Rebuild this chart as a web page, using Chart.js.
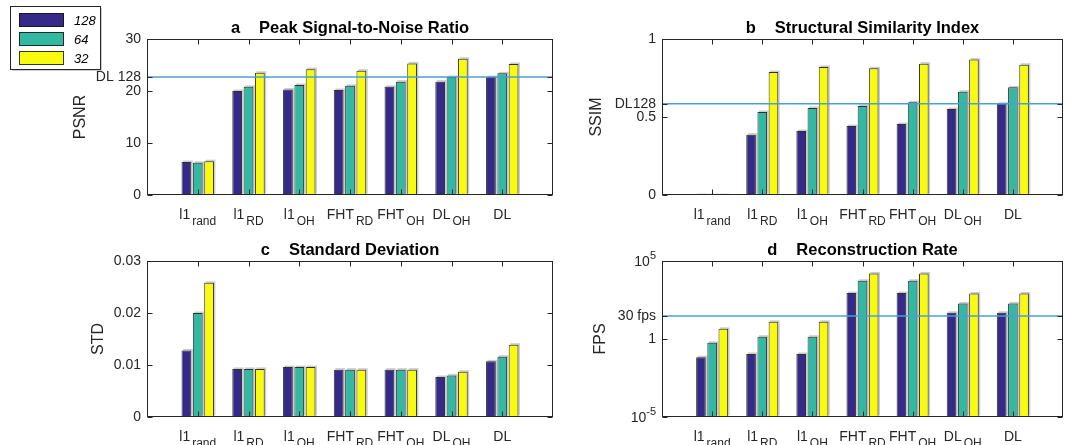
<!DOCTYPE html>
<html><head><meta charset="utf-8">
<script src="https://cdn.jsdelivr.net/npm/chart.js@4.4.0/dist/chart.umd.min.js"></script>
<style>
html,body{margin:0;padding:0;background:#fff;}
#wrap{position:relative;width:1070px;height:445px;overflow:hidden;background:#fff;}
canvas{position:absolute;left:0;top:0;}
</style></head><body>
<div id="wrap">
<canvas id="ca" width="1070" height="445"></canvas>
<canvas id="cb" width="1070" height="445"></canvas>
<canvas id="cc" width="1070" height="445"></canvas>
<canvas id="cd" width="1070" height="445"></canvas>
</div>
<script>
// ---------- data ----------
const categories   = ['l1', 'l1', 'l1', 'FHT', 'FHT', 'DL', 'DL'];
const categorySubs = ['rand', 'RD', 'OH', 'RD', 'OH', 'OH', ''];
const seriesNames  = ['128', '64', '32'];

const psnr128 = [6.35, 20.0, 20.3, 20.2, 20.8, 21.8, 22.7];
const psnr64  = [6.2, 20.8, 21.15, 21.0, 21.8, 22.7, 23.4];
const psnr32  = [6.5, 23.5, 24.2, 23.9, 25.3, 26.2, 25.2];

const ssim128 = [0.003, 0.387, 0.41, 0.442, 0.455, 0.551, 0.585];
const ssim64  = [0.002, 0.532, 0.558, 0.571, 0.594, 0.662, 0.690];
const ssim32  = [0.002, 0.788, 0.821, 0.812, 0.842, 0.868, 0.835];

const std128 = [0.0128, 0.00925, 0.0096, 0.0091, 0.0091, 0.0077, 0.0107];
const std64  = [0.0200, 0.00925, 0.0096, 0.0091, 0.0091, 0.0080, 0.0116];
const std32  = [0.0258, 0.00925, 0.0096, 0.0091, 0.0091, 0.0087, 0.0139];

const fps128 = [0.068, 0.11, 0.11, 880, 880, 48, 48];
const fps64  = [0.57, 1.4, 1.4, 5400, 5400, 190, 190];
const fps32  = [4.5, 12.6, 12.6, 16000, 16000, 830, 830];

const psnrTicks = [0, 10, 20, 30];       const psnrTickLabels = ['0', '10', '20', '30'];
const ssimTicks = [0, 0.5, 1];           const ssimTickLabels = ['0', '0.5', '1'];
const stdTicks  = [0, 0.01, 0.02, 0.03]; const stdTickLabels  = ['0', '0.01', '0.02', '0.03'];
const fpsTicks  = [1e-5, 1, 1e5];        const fpsTickLabels  = ['10^-5', '1', '10^5'];

const psnrRef = 22.7;  const psnrRefLabel = 'DL 128';
const ssimRef = 0.585; const ssimRefLabel = 'DL128';
const fpsRef  = 30;    const fpsRefLabel  = '30 fps';

// ---------- style ----------
const FONT = "'Liberation Sans', Arial, Helvetica, sans-serif";
const AXIS_COLOR = '#262626';
const COLORS = ['#352A87', '#33B8A1', '#F9FB0E'];

const decor = {
  id: 'decor',
  beforeDatasetsDraw(chart) {
    const ctx = chart.ctx;
    ctx.save();
    ctx.fillStyle = 'rgba(0,0,0,0.2)';
    chart.data.datasets.forEach((ds, k) => {
      chart.getDatasetMeta(k).data.forEach(el => {
        if (el.skip || el.y == null || isNaN(el.y)) return;
        const w = el.width, x0 = el.x - w / 2;
        const top = Math.min(el.y, el.base), h = Math.abs(el.base - el.y);
        ctx.fillRect(x0 + 1.5, top - 1.5, w, h);
      });
    });
    ctx.restore();
  },
  afterDatasetsDraw(chart, args, o) {
    const ctx = chart.ctx;
    const {left, right, top, bottom} = chart.chartArea;
    const ys = chart.scales.y, xs = chart.scales.x;
    ctx.save();
    // reference line
    const ry = ys.getPixelForValue(o.refValue);
    ctx.strokeStyle = '#4A9FD8'; ctx.lineWidth = 1.4;
    ctx.beginPath(); ctx.moveTo(left, ry); ctx.lineTo(right, ry); ctx.stroke();
    // box
    ctx.strokeStyle = AXIS_COLOR; ctx.lineWidth = 1;
    const L = Math.round(left) + 0.5, R = Math.round(right) - 0.5, T = Math.round(top) + 0.5, B = Math.round(bottom) - 0.5;
    ctx.strokeRect(L, T, R - L, B - T);
    // y ticks (inward, both sides)
    ctx.beginPath();
    o.tickValues.concat([o.refValue]).forEach(v => {
      const py = Math.round(ys.getPixelForValue(v)) + 0.5;
      ctx.moveTo(L, py); ctx.lineTo(L + 5, py);
      ctx.moveTo(R, py); ctx.lineTo(R - 5, py);
    });
    // x ticks (inward, top and bottom)
    for (let i = 1; i <= categories.length; i++) {
      const px = Math.round(xs.getPixelForValue(i)) + 0.5;
      ctx.moveTo(px, T); ctx.lineTo(px, T + 5);
      ctx.moveTo(px, B); ctx.lineTo(px, B - 5);
    }
    ctx.stroke();
    // power-of-ten tick labels
    ctx.fillStyle = AXIS_COLOR; ctx.textBaseline = 'alphabetic'; ctx.textAlign = 'left';
    o.tickLabels.forEach((lab, i) => {
      if (lab.indexOf('^') < 0) return;
      const [base, exp] = lab.split('^');
      const py = ys.getPixelForValue(o.tickValues[i]);
      ctx.font = '14px ' + FONT; const wb = ctx.measureText(base).width;
      ctx.font = '11px ' + FONT; const we = ctx.measureText(exp).width;
      const x0 = left - 6 - we - wb;
      ctx.font = '14px ' + FONT; ctx.fillText(base, x0, py + 5);
      ctx.font = '11px ' + FONT; ctx.fillText(exp, x0 + wb, py - 2);
    });
    // x category labels with subscripts
    for (let i = 0; i < categories.length; i++) {
      const px = xs.getPixelForValue(i + 1);
      ctx.font = '14px ' + FONT; const wm = ctx.measureText(categories[i]).width;
      ctx.font = '12px ' + FONT; const wsub = categorySubs[i] ? ctx.measureText(categorySubs[i]).width + 2 : 0;
      const x0 = px - (wm + wsub) / 2;
      ctx.font = '14px ' + FONT; ctx.fillText(categories[i], x0, bottom + 24);
      if (categorySubs[i]) { ctx.font = '12px ' + FONT; ctx.fillText(categorySubs[i], x0 + wm + 2, bottom + 30); }
    }
    // panel title
    ctx.fillStyle = '#000';
    ctx.font = 'bold 16.5px ' + FONT;
    const wl = ctx.measureText(o.letter).width, wt = ctx.measureText(o.title).width;
    const tx = (left + right) / 2 - (wl + 19 + wt) / 2;
    ctx.fillText(o.letter, tx, top - 6);
    ctx.fillText(o.title, tx + wl + 19, top - 6);
    // legend
    if (o.legend) {
      const bx = 10, by = 6, bw = 90, bh = 63;
      ctx.fillStyle = 'rgba(0,0,0,0.2)'; ctx.fillRect(bx + 2, by + 2, bw, bh);
      ctx.fillStyle = '#fff'; ctx.fillRect(bx, by, bw, bh);
      ctx.strokeStyle = AXIS_COLOR; ctx.lineWidth = 1; ctx.strokeRect(bx + 0.5, by + 0.5, bw, bh);
      const rows = [13, 32, 51];
      seriesNames.forEach((name, k) => {
        ctx.fillStyle = COLORS[k]; ctx.fillRect(19, rows[k], 45, 14);
        ctx.strokeStyle = 'rgba(20,20,20,0.85)'; ctx.strokeRect(19.5, rows[k] + 0.5, 44, 13);
        ctx.fillStyle = '#000'; ctx.font = 'italic 13px ' + FONT;
        ctx.fillText(name, 74, rows[k] + 12);
      });
    }
    ctx.restore();
  }
};

function makePanel(id, cfg) {
  const labels = [''].concat(categories.map((c, i) => c + categorySubs[i]), ['']);
  const datasets = cfg.series.map((arr, k) => ({
    label: seriesNames[k],
    data: [null].concat(arr, [null]),
    backgroundColor: COLORS[k],
    borderColor: 'rgba(20,20,20,0.85)',
    borderWidth: 1,
    borderSkipped: false,
    categoryPercentage: 0.67,
    barPercentage: 0.86
  }));
  const allTicks = cfg.tickValues.concat([cfg.refValue]).filter(v => !isNaN(v)).sort((a, b) => a - b);
  new Chart(document.getElementById(id), {
    type: 'bar',
    data: { labels, datasets },
    options: {
      responsive: false, animation: false, devicePixelRatio: 1,
      events: [],
      layout: { padding: { left: cfg.area.l - 80, right: 1070 - cfg.area.r, top: cfg.area.t, bottom: 445 - cfg.area.b } },
      plugins: {
        legend: { display: false }, tooltip: { enabled: false }, title: { display: false },
        decor: {
          refValue: cfg.refValue, tickValues: cfg.tickValues, tickLabels: cfg.tickLabels,
          letter: cfg.letter, title: cfg.title, legend: !!cfg.legend
        }
      },
      scales: {
        x: { type: 'category', display: false, offset: false, grid: { offset: false } },
        y: {
          type: cfg.log ? 'logarithmic' : 'linear',
          min: cfg.min, max: cfg.max,
          afterFit: s => { s.width = 80; },
          afterBuildTicks: s => { s.ticks = allTicks.map(v => ({ value: v })); },
          ticks: {
            autoSkip: false, font: { family: FONT, size: 14 }, color: AXIS_COLOR, padding: 6,
            callback: (v) => {
              if (Math.abs(v - cfg.refValue) < 1e-12) return cfg.refLabel;
              const i = cfg.tickValues.findIndex(t => Math.abs(t - v) <= Math.abs(t) * 1e-9 + 1e-15);
              const lab = i >= 0 ? cfg.tickLabels[i] : '';
              return lab.indexOf('^') >= 0 ? '' : lab;
            }
          },
          grid: { display: false, drawTicks: false },
          border: { display: false },
          title: { display: true, text: cfg.yTitle, font: { family: FONT, size: 16 }, color: AXIS_COLOR,
                   padding: { top: cfg.yTitlePad, bottom: 0 } }
        }
      }
    },
    plugins: [decor]
  });
}

makePanel('ca', { area: {l:147, r:553, t:39, b:195}, series: [psnr128, psnr64, psnr32], min: 0, max: 30,
  tickValues: psnrTicks, tickLabels: psnrTickLabels, refValue: psnrRef, refLabel: psnrRefLabel,
  yTitle: 'PSNR', yTitlePad: 4, letter: 'a', title: 'Peak Signal-to-Noise Ratio', legend: true });
makePanel('cb', { area: {l:662, r:1063, t:39, b:195}, series: [ssim128, ssim64, ssim32], min: 0, max: 1,
  tickValues: ssimTicks, tickLabels: ssimTickLabels, refValue: ssimRef, refLabel: ssimRefLabel,
  yTitle: 'SSIM', yTitlePad: 5, letter: 'b', title: 'Structural Similarity Index' });
makePanel('cc', { area: {l:147, r:553, t:261, b:417}, series: [std128, std64, std32], min: 0, max: 0.03,
  tickValues: stdTicks, tickLabels: stdTickLabels, refValue: NaN, refLabel: '',
  yTitle: 'STD', yTitlePad: 22, letter: 'c', title: 'Standard Deviation' });
makePanel('cd', { area: {l:662, r:1063, t:261, b:417}, series: [fps128, fps64, fps32], min: 1e-5, max: 1e5, log: true,
  tickValues: fpsTicks, tickLabels: fpsTickLabels, refValue: fpsRef, refLabel: fpsRefLabel,
  yTitle: 'FPS', yTitlePad: 9, letter: 'd', title: 'Reconstruction Rate' });
</script>
</body></html>
